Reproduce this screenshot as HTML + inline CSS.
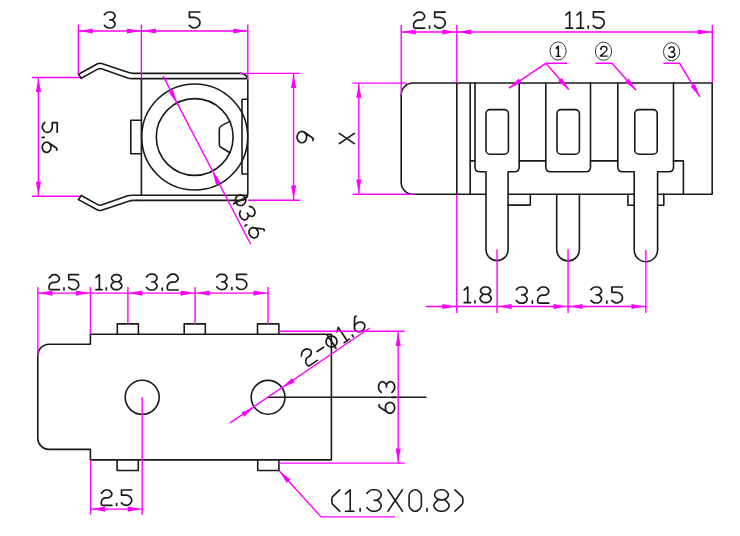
<!DOCTYPE html>
<html><head><meta charset="utf-8"><title>Audio jack drawing</title>
<style>html,body{margin:0;padding:0;background:#fff;}body{width:740px;height:536px;overflow:hidden;font-family:"Liberation Sans",sans-serif;}svg{display:block;}</style>
</head><body>
<svg width="740" height="536" viewBox="0 0 740 536">
<rect width="740" height="536" fill="#fff"/>
<g fill="none" stroke="#1a1a1a" stroke-width="1.6" stroke-linecap="round" stroke-linejoin="round">
<path d="M78.50,74.20 L97.11,64.00 Q99.30,62.80 101.67,63.59 L128.63,72.61 Q131.00,73.40 133.50,73.40 L137.00,73.40 L241,73.4 A6.8,6.8 0 0 1 247.8,80.2 L247.8,193.6 A6.8,6.8 0 0 1 241,200.40 L137,200.40"/>
<path d="M137.00,200.40 L133.50,200.40 Q131.00,200.40 128.63,201.19 L101.67,210.21 Q99.30,211.00 97.11,209.80 L78.50,199.60"/>
<path d="M81.20,78.30 L97.75,69.17 Q99.50,68.20 101.39,68.85 L127.71,77.95 Q129.60,78.60 131.60,78.60 L137.00,78.60 L246.4,78.6"/>
<path d="M81.20,195.50 L97.75,204.63 Q99.50,205.60 101.39,204.95 L127.71,195.85 Q129.60,195.20 131.60,195.20 L137.00,195.20 L246.4,195.20"/>
<path d="M81.2,78.3 L78.5,74.2"/>
<path d="M81.2,195.50 L78.5,199.60"/>
<path d="M141.4,78.6 L141.4,195.2"/>
<path d="M141.4,120.2 L130.8,120.2 L130.8,153.8 L141.4,153.8"/>
<path d="M247.8,99.3 L242,99.3 L242,174 L247.8,174"/>
<circle cx="194.7" cy="137" r="53"/>
<circle cx="194.7" cy="137" r="38.4"/>
<path d="M229.9,121.4 L221.6,125.6 Q219.3,126.8 219.3,129.4 L219.3,144.2 Q219.3,146.6 221.6,147.8 L229.9,152.8"/>
<path d="M413,83 L712.2,83 L712.2,194.3 L657.6,194.3 M634.2,194.3 L579.4,194.3 L508.1,194.3 M486,194.3 L413,194.3 A11.8,11.8 0 0 1 401.2,182.5 L401.2,94.8 A11.8,11.8 0 0 1 413,83"/>
<line x1="456.8" y1="83" x2="456.8" y2="194.3"/>
<line x1="470.2" y1="83" x2="470.2" y2="194.3"/>
<path d="M475,83 L475,167 Q475,171.8 479.8,171.8 L486,171.8 L486,249.6 A11.05,11.05 0 0 0 508.1,249.6 L508.1,171.8 L514.4,171.8 Q519.2,171.8 519.2,167 L519.2,83"/>
<path d="M545.8,83 L545.8,167 Q545.8,171.8 550.6,171.8 L585.7,171.8 Q590.5,171.8 590.5,167 L590.5,83"/>
<path d="M617.8,83 L617.8,167 Q617.8,171.8 622.6,171.8 L634.2,171.8 L634.2,250 A11.7,11.7 0 0 0 657.6,250 L657.6,171.8 L668.7,171.8 Q673.5,171.8 673.5,167 L673.5,83"/>
<line x1="470.2" y1="160.9" x2="475" y2="160.9"/>
<line x1="519.2" y1="160.9" x2="545.8" y2="160.9"/>
<line x1="590.5" y1="160.9" x2="617.8" y2="160.9"/>
<path d="M673.5,160.9 L683.4,160.9 L683.4,194.3"/>
<path d="M556.7,194.3 L556.7,249.6 A11.35,11.35 0 0 0 579.4,249.6 L579.4,194.3"/>
<rect x="486.0" y="109.6" width="22.4" height="44.6" rx="4" ry="4"/>
<rect x="557.0" y="109.6" width="22.4" height="44.6" rx="4" ry="4"/>
<rect x="634.8" y="109.6" width="22.4" height="44.6" rx="4" ry="4"/>
<path d="M508.1,205.1 L530.3,205.1 L530.3,194.3"/>
<path d="M634.2,205.2 L627.9,205.2 L627.9,194.3 M657.6,205.2 L663.8,205.2 L663.8,194.3"/>
<path d="M90.4,334.2 L331.4,334.2 L331.4,459.9 L90.4,459.9 L90.4,449.4 L49,449.4 A11.2,11.2 0 0 1 37.8,438.2 L37.8,355.4 A11.2,11.2 0 0 1 49,344.2 L90.4,344.2 Z"/>
<path d="M117.3,334.2 L117.3,323.9 L138.4,323.9 L138.4,334.2"/>
<path d="M184.2,334.2 L184.2,323.9 L205.3,323.9 L205.3,334.2"/>
<path d="M257.5,334.2 L257.5,323.9 L278.9,323.9 L278.9,334.2"/>
<path d="M117.1,459.9 L117.1,470.5 L138.3,470.5 L138.3,459.9"/>
<path d="M257.7,459.9 L257.7,470.5 L278.9,470.5 L278.9,459.9"/>
<circle cx="142.2" cy="397.3" r="17"/>
<circle cx="268.1" cy="397.3" r="16.9"/>
<line x1="268.1" y1="397.2" x2="425.9" y2="397.2"/>
</g>
<g transform="translate(104.40,12.00)" fill="none" stroke="#1a1a1a" stroke-width="1.700" stroke-linecap="round" stroke-linejoin="round"><path transform="translate(0.00,0)" d="M0.00,2.70 L1.35,1.30 Q2.60,0.00 4.40,0.00 L6.20,0.00 Q8.00,0.00 9.32,1.22 L9.38,1.28 Q10.70,2.50 10.70,3.84 L10.70,3.86 Q10.70,5.20 9.43,6.47 L9.27,6.63 Q8.00,7.90 6.71,7.90 L5.40,7.90 M8.00,7.90 L9.45,9.40 Q10.70,10.70 10.70,11.99 L10.70,12.01 Q10.70,13.30 9.43,14.57 L9.27,14.73 Q8.00,16.00 6.20,16.00 L4.40,16.00 Q2.60,16.00 1.35,14.70 L0.00,13.30"/></g>
<g transform="translate(189.40,12.00)" fill="none" stroke="#1a1a1a" stroke-width="1.700" stroke-linecap="round" stroke-linejoin="round"><path transform="translate(0.00,0)" d="M10.4,0 L0,0 L0,5.3 M0.00,5.30 L4.80,5.30 Q7.00,5.30 8.62,6.79 L8.98,7.11 Q10.60,8.60 10.60,10.59 L10.60,10.61 Q10.60,12.60 9.04,14.16 L8.76,14.44 Q7.20,16.00 5.01,16.00 L4.99,16.00 Q2.80,16.00 1.36,14.71 L-0.10,13.40"/></g>
<g transform="translate(57.20,122.60) rotate(90.00) scale(0.9300)" fill="none" stroke="#1a1a1a" stroke-width="1.828" stroke-linecap="round" stroke-linejoin="round"><path transform="translate(0.00,0)" d="M10.4,0 L0,0 L0,5.3 M0.00,5.30 L4.80,5.30 Q7.00,5.30 8.62,6.79 L8.98,7.11 Q10.60,8.60 10.60,10.59 L10.60,10.61 Q10.60,12.60 9.04,14.16 L8.76,14.44 Q7.20,16.00 5.01,16.00 L4.99,16.00 Q2.80,16.00 1.36,14.71 L-0.10,13.40"/><path transform="translate(15.70,0)" d="M0.2,14 L0.2,16.1"/><path transform="translate(21.00,0)" d="M0.4,9.6 L6.6,0.6 Q7.4,-0.3 8.6,0.7 M5.00,6.80 L6.00,6.80 Q8.00,6.80 9.41,8.21 L9.59,8.39 Q11.00,9.80 11.00,11.39 L11.00,11.41 Q11.00,13.00 9.59,14.41 L9.41,14.59 Q8.00,16.00 6.00,16.00 L5.00,16.00 Q3.00,16.00 1.59,14.59 L1.41,14.41 Q0.00,13.00 0.00,11.41 L0.00,11.39 Q0.00,9.80 1.41,8.39 L1.59,8.21 Q3.00,6.80 5.00,6.80 Z"/></g>
<g transform="translate(313.60,131.40) rotate(90.00) scale(1.0312)" fill="none" stroke="#1a1a1a" stroke-width="1.648" stroke-linecap="round" stroke-linejoin="round"><path transform="translate(0.00,0)" d="M0.4,9.6 L6.6,0.6 Q7.4,-0.3 8.6,0.7 M5.00,6.80 L6.00,6.80 Q8.00,6.80 9.41,8.21 L9.59,8.39 Q11.00,9.80 11.00,11.39 L11.00,11.41 Q11.00,13.00 9.59,14.41 L9.41,14.59 Q8.00,16.00 6.00,16.00 L5.00,16.00 Q3.00,16.00 1.59,14.59 L1.41,14.41 Q0.00,13.00 0.00,11.41 L0.00,11.39 Q0.00,9.80 1.41,8.39 L1.59,8.21 Q3.00,6.80 5.00,6.80 Z"/></g>
<g transform="translate(354.30,133.40) rotate(90.00) scale(0.9375)" fill="none" stroke="#1a1a1a" stroke-width="1.813" stroke-linecap="round" stroke-linejoin="round"><path transform="translate(0.00,0)" d="M0,0 L10.9,16 M10.9,0 L0,16"/></g>
<g transform="translate(245.00,192.00) rotate(62.80) scale(0.9600)" fill="none" stroke="#1a1a1a" stroke-width="1.771" stroke-linecap="round" stroke-linejoin="round"><path transform="translate(0.00,0)" d="M5.5,2.6 A5.5,5.5 0 1 0 5.5,13.6 A5.5,5.5 0 1 0 5.5,2.6 Z M5.5,0 L5.5,16.2"/><path transform="translate(15.40,0)" d="M0.00,2.70 L1.35,1.30 Q2.60,0.00 4.40,0.00 L6.20,0.00 Q8.00,0.00 9.32,1.22 L9.38,1.28 Q10.70,2.50 10.70,3.84 L10.70,3.86 Q10.70,5.20 9.43,6.47 L9.27,6.63 Q8.00,7.90 6.71,7.90 L5.40,7.90 M8.00,7.90 L9.45,9.40 Q10.70,10.70 10.70,11.99 L10.70,12.01 Q10.70,13.30 9.43,14.57 L9.27,14.73 Q8.00,16.00 6.20,16.00 L4.40,16.00 Q2.60,16.00 1.35,14.70 L0.00,13.30"/><path transform="translate(31.10,0)" d="M0.2,14 L0.2,16.1"/><path transform="translate(36.40,0)" d="M0.4,9.6 L6.6,0.6 Q7.4,-0.3 8.6,0.7 M5.00,6.80 L6.00,6.80 Q8.00,6.80 9.41,8.21 L9.59,8.39 Q11.00,9.80 11.00,11.39 L11.00,11.41 Q11.00,13.00 9.59,14.41 L9.41,14.59 Q8.00,16.00 6.00,16.00 L5.00,16.00 Q3.00,16.00 1.59,14.59 L1.41,14.41 Q0.00,13.00 0.00,11.41 L0.00,11.39 Q0.00,9.80 1.41,8.39 L1.59,8.21 Q3.00,6.80 5.00,6.80 Z"/></g>
<g transform="translate(413.60,12.10)" fill="none" stroke="#1a1a1a" stroke-width="1.700" stroke-linecap="round" stroke-linejoin="round"><path transform="translate(0.00,0)" d="M0.20,3.40 L2.30,1.17 Q3.40,0.00 5.00,0.00 L6.60,0.00 Q8.20,0.00 9.29,1.17 L10.01,1.93 Q11.10,3.10 11.10,4.24 L11.10,4.26 Q11.10,5.40 9.97,6.53 L9.53,6.97 Q8.40,8.10 6.80,8.10 L4.60,8.10 Q3.00,8.10 1.87,9.23 L1.23,9.87 Q0.10,11.00 0.10,12.60 L0.10,14.40 Q0.10,16.00 1.70,16.00 L11.10,16.00"/><path transform="translate(15.80,0)" d="M0.2,14 L0.2,16.1"/><path transform="translate(21.10,0)" d="M10.4,0 L0,0 L0,5.3 M0.00,5.30 L4.80,5.30 Q7.00,5.30 8.62,6.79 L8.98,7.11 Q10.60,8.60 10.60,10.59 L10.60,10.61 Q10.60,12.60 9.04,14.16 L8.76,14.44 Q7.20,16.00 5.01,16.00 L4.99,16.00 Q2.80,16.00 1.36,14.71 L-0.10,13.40"/></g>
<g transform="translate(566.00,11.90) scale(1.0188)" fill="none" stroke="#1a1a1a" stroke-width="1.669" stroke-linecap="round" stroke-linejoin="round"><path transform="translate(0.00,0)" d="M0,3 L3.6,0 L3.6,16 M0,16 L6.4,16"/><path transform="translate(10.80,0)" d="M0,3 L3.6,0 L3.6,16 M0,16 L6.4,16"/><path transform="translate(21.60,0)" d="M0.2,14 L0.2,16.1"/><path transform="translate(26.90,0)" d="M10.4,0 L0,0 L0,5.3 M0.00,5.30 L4.80,5.30 Q7.00,5.30 8.62,6.79 L8.98,7.11 Q10.60,8.60 10.60,10.59 L10.60,10.61 Q10.60,12.60 9.04,14.16 L8.76,14.44 Q7.20,16.00 5.01,16.00 L4.99,16.00 Q2.80,16.00 1.36,14.71 L-0.10,13.40"/></g>
<g transform="translate(464.20,287.00) scale(0.9812)" fill="none" stroke="#1a1a1a" stroke-width="1.732" stroke-linecap="round" stroke-linejoin="round"><path transform="translate(0.00,0)" d="M0,3 L3.6,0 L3.6,16 M0,16 L6.4,16"/><path transform="translate(10.80,0)" d="M0.2,14 L0.2,16.1"/><path transform="translate(16.10,0)" d="M5.00,0.00 L6.40,0.00 Q8.20,0.00 9.50,1.25 L9.60,1.35 Q10.90,2.60 10.90,3.74 L10.90,3.76 Q10.90,4.90 9.63,6.17 L9.57,6.23 Q8.30,7.50 6.50,7.50 L5.10,7.50 Q3.30,7.50 1.98,6.28 L1.82,6.12 Q0.50,4.90 0.50,3.76 L0.50,3.74 Q0.50,2.60 1.80,1.35 L1.90,1.25 Q3.20,0.00 5.00,0.00 Z M3.30,7.50 L1.31,9.37 Q0.00,10.60 0.00,11.79 L0.00,11.81 Q0.00,13.00 1.29,14.25 L1.81,14.75 Q3.10,16.00 4.90,16.00 L6.70,16.00 Q8.50,16.00 9.77,14.73 L10.23,14.27 Q11.50,13.00 11.50,11.81 L11.50,11.79 Q11.50,10.60 10.21,9.35 L8.30,7.50"/></g>
<g transform="translate(516.30,287.00) scale(1.0125)" fill="none" stroke="#1a1a1a" stroke-width="1.679" stroke-linecap="round" stroke-linejoin="round"><path transform="translate(0.00,0)" d="M0.00,2.70 L1.35,1.30 Q2.60,0.00 4.40,0.00 L6.20,0.00 Q8.00,0.00 9.32,1.22 L9.38,1.28 Q10.70,2.50 10.70,3.84 L10.70,3.86 Q10.70,5.20 9.43,6.47 L9.27,6.63 Q8.00,7.90 6.71,7.90 L5.40,7.90 M8.00,7.90 L9.45,9.40 Q10.70,10.70 10.70,11.99 L10.70,12.01 Q10.70,13.30 9.43,14.57 L9.27,14.73 Q8.00,16.00 6.20,16.00 L4.40,16.00 Q2.60,16.00 1.35,14.70 L0.00,13.30"/><path transform="translate(15.70,0)" d="M0.2,14 L0.2,16.1"/><path transform="translate(21.00,0)" d="M0.20,3.40 L2.30,1.17 Q3.40,0.00 5.00,0.00 L6.60,0.00 Q8.20,0.00 9.29,1.17 L10.01,1.93 Q11.10,3.10 11.10,4.24 L11.10,4.26 Q11.10,5.40 9.97,6.53 L9.53,6.97 Q8.40,8.10 6.80,8.10 L4.60,8.10 Q3.00,8.10 1.87,9.23 L1.23,9.87 Q0.10,11.00 0.10,12.60 L0.10,14.40 Q0.10,16.00 1.70,16.00 L11.10,16.00"/></g>
<g transform="translate(590.90,287.00)" fill="none" stroke="#1a1a1a" stroke-width="1.700" stroke-linecap="round" stroke-linejoin="round"><path transform="translate(0.00,0)" d="M0.00,2.70 L1.35,1.30 Q2.60,0.00 4.40,0.00 L6.20,0.00 Q8.00,0.00 9.32,1.22 L9.38,1.28 Q10.70,2.50 10.70,3.84 L10.70,3.86 Q10.70,5.20 9.43,6.47 L9.27,6.63 Q8.00,7.90 6.71,7.90 L5.40,7.90 M8.00,7.90 L9.45,9.40 Q10.70,10.70 10.70,11.99 L10.70,12.01 Q10.70,13.30 9.43,14.57 L9.27,14.73 Q8.00,16.00 6.20,16.00 L4.40,16.00 Q2.60,16.00 1.35,14.70 L0.00,13.30"/><path transform="translate(15.70,0)" d="M0.2,14 L0.2,16.1"/><path transform="translate(21.00,0)" d="M10.4,0 L0,0 L0,5.3 M0.00,5.30 L4.80,5.30 Q7.00,5.30 8.62,6.79 L8.98,7.11 Q10.60,8.60 10.60,10.59 L10.60,10.61 Q10.60,12.60 9.04,14.16 L8.76,14.44 Q7.20,16.00 5.01,16.00 L4.99,16.00 Q2.80,16.00 1.36,14.71 L-0.10,13.40"/></g>
<g transform="translate(49.00,274.70) scale(0.9375)" fill="none" stroke="#1a1a1a" stroke-width="1.813" stroke-linecap="round" stroke-linejoin="round"><path transform="translate(0.00,0)" d="M0.20,3.40 L2.30,1.17 Q3.40,0.00 5.00,0.00 L6.60,0.00 Q8.20,0.00 9.29,1.17 L10.01,1.93 Q11.10,3.10 11.10,4.24 L11.10,4.26 Q11.10,5.40 9.97,6.53 L9.53,6.97 Q8.40,8.10 6.80,8.10 L4.60,8.10 Q3.00,8.10 1.87,9.23 L1.23,9.87 Q0.10,11.00 0.10,12.60 L0.10,14.40 Q0.10,16.00 1.70,16.00 L11.10,16.00"/><path transform="translate(15.80,0)" d="M0.2,14 L0.2,16.1"/><path transform="translate(21.10,0)" d="M10.4,0 L0,0 L0,5.3 M0.00,5.30 L4.80,5.30 Q7.00,5.30 8.62,6.79 L8.98,7.11 Q10.60,8.60 10.60,10.59 L10.60,10.61 Q10.60,12.60 9.04,14.16 L8.76,14.44 Q7.20,16.00 5.01,16.00 L4.99,16.00 Q2.80,16.00 1.36,14.71 L-0.10,13.40"/></g>
<g transform="translate(96.00,274.70) scale(0.9375)" fill="none" stroke="#1a1a1a" stroke-width="1.813" stroke-linecap="round" stroke-linejoin="round"><path transform="translate(0.00,0)" d="M0,3 L3.6,0 L3.6,16 M0,16 L6.4,16"/><path transform="translate(10.80,0)" d="M0.2,14 L0.2,16.1"/><path transform="translate(16.10,0)" d="M5.00,0.00 L6.40,0.00 Q8.20,0.00 9.50,1.25 L9.60,1.35 Q10.90,2.60 10.90,3.74 L10.90,3.76 Q10.90,4.90 9.63,6.17 L9.57,6.23 Q8.30,7.50 6.50,7.50 L5.10,7.50 Q3.30,7.50 1.98,6.28 L1.82,6.12 Q0.50,4.90 0.50,3.76 L0.50,3.74 Q0.50,2.60 1.80,1.35 L1.90,1.25 Q3.20,0.00 5.00,0.00 Z M3.30,7.50 L1.31,9.37 Q0.00,10.60 0.00,11.79 L0.00,11.81 Q0.00,13.00 1.29,14.25 L1.81,14.75 Q3.10,16.00 4.90,16.00 L6.70,16.00 Q8.50,16.00 9.77,14.73 L10.23,14.27 Q11.50,13.00 11.50,11.81 L11.50,11.79 Q11.50,10.60 10.21,9.35 L8.30,7.50"/></g>
<g transform="translate(146.50,274.20) scale(0.9875)" fill="none" stroke="#1a1a1a" stroke-width="1.722" stroke-linecap="round" stroke-linejoin="round"><path transform="translate(0.00,0)" d="M0.00,2.70 L1.35,1.30 Q2.60,0.00 4.40,0.00 L6.20,0.00 Q8.00,0.00 9.32,1.22 L9.38,1.28 Q10.70,2.50 10.70,3.84 L10.70,3.86 Q10.70,5.20 9.43,6.47 L9.27,6.63 Q8.00,7.90 6.71,7.90 L5.40,7.90 M8.00,7.90 L9.45,9.40 Q10.70,10.70 10.70,11.99 L10.70,12.01 Q10.70,13.30 9.43,14.57 L9.27,14.73 Q8.00,16.00 6.20,16.00 L4.40,16.00 Q2.60,16.00 1.35,14.70 L0.00,13.30"/><path transform="translate(15.70,0)" d="M0.2,14 L0.2,16.1"/><path transform="translate(21.00,0)" d="M0.20,3.40 L2.30,1.17 Q3.40,0.00 5.00,0.00 L6.60,0.00 Q8.20,0.00 9.29,1.17 L10.01,1.93 Q11.10,3.10 11.10,4.24 L11.10,4.26 Q11.10,5.40 9.97,6.53 L9.53,6.97 Q8.40,8.10 6.80,8.10 L4.60,8.10 Q3.00,8.10 1.87,9.23 L1.23,9.87 Q0.10,11.00 0.10,12.60 L0.10,14.40 Q0.10,16.00 1.70,16.00 L11.10,16.00"/></g>
<g transform="translate(216.80,274.30) scale(0.9500)" fill="none" stroke="#1a1a1a" stroke-width="1.789" stroke-linecap="round" stroke-linejoin="round"><path transform="translate(0.00,0)" d="M0.00,2.70 L1.35,1.30 Q2.60,0.00 4.40,0.00 L6.20,0.00 Q8.00,0.00 9.32,1.22 L9.38,1.28 Q10.70,2.50 10.70,3.84 L10.70,3.86 Q10.70,5.20 9.43,6.47 L9.27,6.63 Q8.00,7.90 6.71,7.90 L5.40,7.90 M8.00,7.90 L9.45,9.40 Q10.70,10.70 10.70,11.99 L10.70,12.01 Q10.70,13.30 9.43,14.57 L9.27,14.73 Q8.00,16.00 6.20,16.00 L4.40,16.00 Q2.60,16.00 1.35,14.70 L0.00,13.30"/><path transform="translate(15.70,0)" d="M0.2,14 L0.2,16.1"/><path transform="translate(21.00,0)" d="M10.4,0 L0,0 L0,5.3 M0.00,5.30 L4.80,5.30 Q7.00,5.30 8.62,6.79 L8.98,7.11 Q10.60,8.60 10.60,10.59 L10.60,10.61 Q10.60,12.60 9.04,14.16 L8.76,14.44 Q7.20,16.00 5.01,16.00 L4.99,16.00 Q2.80,16.00 1.36,14.71 L-0.10,13.40"/></g>
<g transform="translate(378.60,413.30) rotate(-90.00)" fill="none" stroke="#1a1a1a" stroke-width="1.700" stroke-linecap="round" stroke-linejoin="round"><path transform="translate(0.00,0)" d="M0.4,9.6 L6.6,0.6 Q7.4,-0.3 8.6,0.7 M5.00,6.80 L6.00,6.80 Q8.00,6.80 9.41,8.21 L9.59,8.39 Q11.00,9.80 11.00,11.39 L11.00,11.41 Q11.00,13.00 9.59,14.41 L9.41,14.59 Q8.00,16.00 6.00,16.00 L5.00,16.00 Q3.00,16.00 1.59,14.59 L1.41,14.41 Q0.00,13.00 0.00,11.41 L0.00,11.39 Q0.00,9.80 1.41,8.39 L1.59,8.21 Q3.00,6.80 5.00,6.80 Z"/><path transform="translate(15.70,0)" d="M0.2,14 L0.2,16.1"/><path transform="translate(21.00,0)" d="M0.00,2.70 L1.35,1.30 Q2.60,0.00 4.40,0.00 L6.20,0.00 Q8.00,0.00 9.32,1.22 L9.38,1.28 Q10.70,2.50 10.70,3.84 L10.70,3.86 Q10.70,5.20 9.43,6.47 L9.27,6.63 Q8.00,7.90 6.71,7.90 L5.40,7.90 M8.00,7.90 L9.45,9.40 Q10.70,10.70 10.70,11.99 L10.70,12.01 Q10.70,13.30 9.43,14.57 L9.27,14.73 Q8.00,16.00 6.20,16.00 L4.40,16.00 Q2.60,16.00 1.35,14.70 L0.00,13.30"/></g>
<g transform="translate(299.30,353.20) rotate(-33.50)" fill="none" stroke="#1a1a1a" stroke-width="1.700" stroke-linecap="round" stroke-linejoin="round"><path transform="translate(0.00,0)" d="M0.20,3.40 L2.30,1.17 Q3.40,0.00 5.00,0.00 L6.60,0.00 Q8.20,0.00 9.29,1.17 L10.01,1.93 Q11.10,3.10 11.10,4.24 L11.10,4.26 Q11.10,5.40 9.97,6.53 L9.53,6.97 Q8.40,8.10 6.80,8.10 L4.60,8.10 Q3.00,8.10 1.87,9.23 L1.23,9.87 Q0.10,11.00 0.10,12.60 L0.10,14.40 Q0.10,16.00 1.70,16.00 L11.10,16.00"/><path transform="translate(15.80,0)" d="M0,8.4 L7.8,8.4"/><path transform="translate(27.80,0)" d="M5.5,2.6 A5.5,5.5 0 1 0 5.5,13.6 A5.5,5.5 0 1 0 5.5,2.6 Z M5.5,0 L5.5,16.2"/><path transform="translate(43.20,0)" d="M0,3 L3.6,0 L3.6,16 M0,16 L6.4,16"/><path transform="translate(54.00,0)" d="M0.2,14 L0.2,16.1"/><path transform="translate(59.30,0)" d="M0.4,9.6 L6.6,0.6 Q7.4,-0.3 8.6,0.7 M5.00,6.80 L6.00,6.80 Q8.00,6.80 9.41,8.21 L9.59,8.39 Q11.00,9.80 11.00,11.39 L11.00,11.41 Q11.00,13.00 9.59,14.41 L9.41,14.59 Q8.00,16.00 6.00,16.00 L5.00,16.00 Q3.00,16.00 1.59,14.59 L1.41,14.41 Q0.00,13.00 0.00,11.41 L0.00,11.39 Q0.00,9.80 1.41,8.39 L1.59,8.21 Q3.00,6.80 5.00,6.80 Z"/></g>
<g transform="translate(101.20,490.00) scale(0.9625)" fill="none" stroke="#1a1a1a" stroke-width="1.766" stroke-linecap="round" stroke-linejoin="round"><path transform="translate(0.00,0)" d="M0.20,3.40 L2.30,1.17 Q3.40,0.00 5.00,0.00 L6.60,0.00 Q8.20,0.00 9.29,1.17 L10.01,1.93 Q11.10,3.10 11.10,4.24 L11.10,4.26 Q11.10,5.40 9.97,6.53 L9.53,6.97 Q8.40,8.10 6.80,8.10 L4.60,8.10 Q3.00,8.10 1.87,9.23 L1.23,9.87 Q0.10,11.00 0.10,12.60 L0.10,14.40 Q0.10,16.00 1.70,16.00 L11.10,16.00"/><path transform="translate(15.80,0)" d="M0.2,14 L0.2,16.1"/><path transform="translate(21.10,0)" d="M10.4,0 L0,0 L0,5.3 M0.00,5.30 L4.80,5.30 Q7.00,5.30 8.62,6.79 L8.98,7.11 Q10.60,8.60 10.60,10.59 L10.60,10.61 Q10.60,12.60 9.04,14.16 L8.76,14.44 Q7.20,16.00 5.01,16.00 L4.99,16.00 Q2.80,16.00 1.36,14.71 L-0.10,13.40"/></g>
<g transform="translate(331.90,489.80) scale(1.3375)" fill="none" stroke="#1a1a1a" stroke-width="1.196" stroke-linecap="round" stroke-linejoin="round"><path transform="translate(0.00,0)" d="M5.90,0.00 L0.73,4.91 Q0.00,5.60 0.00,6.60 L0.00,9.40 Q0.00,10.40 0.73,11.09 L5.90,16.00"/><path transform="translate(10.10,0)" d="M0,3 L3.6,0 L3.6,16 M0,16 L6.4,16"/><path transform="translate(20.90,0)" d="M0.2,14 L0.2,16.1"/><path transform="translate(26.20,0)" d="M0.00,2.70 L1.35,1.30 Q2.60,0.00 4.40,0.00 L6.20,0.00 Q8.00,0.00 9.32,1.22 L9.38,1.28 Q10.70,2.50 10.70,3.84 L10.70,3.86 Q10.70,5.20 9.43,6.47 L9.27,6.63 Q8.00,7.90 6.71,7.90 L5.40,7.90 M8.00,7.90 L9.45,9.40 Q10.70,10.70 10.70,11.99 L10.70,12.01 Q10.70,13.30 9.43,14.57 L9.27,14.73 Q8.00,16.00 6.20,16.00 L4.40,16.00 Q2.60,16.00 1.35,14.70 L0.00,13.30"/><path transform="translate(41.90,0)" d="M0,0 L10.9,16 M10.9,0 L0,16"/><path transform="translate(57.70,0)" d="M4.40,0.00 L4.80,0.00 Q6.20,0.00 7.19,0.99 L8.21,2.01 Q9.20,3.00 9.20,4.40 L9.20,11.60 Q9.20,13.00 8.21,13.99 L7.19,15.01 Q6.20,16.00 4.80,16.00 L4.40,16.00 Q3.00,16.00 2.01,15.01 L0.99,13.99 Q0.00,13.00 0.00,11.60 L0.00,4.40 Q0.00,3.00 0.99,2.01 L2.01,0.99 Q3.00,0.00 4.40,0.00 Z"/><path transform="translate(70.90,0)" d="M0.2,14 L0.2,16.1"/><path transform="translate(76.20,0)" d="M5.00,0.00 L6.40,0.00 Q8.20,0.00 9.50,1.25 L9.60,1.35 Q10.90,2.60 10.90,3.74 L10.90,3.76 Q10.90,4.90 9.63,6.17 L9.57,6.23 Q8.30,7.50 6.50,7.50 L5.10,7.50 Q3.30,7.50 1.98,6.28 L1.82,6.12 Q0.50,4.90 0.50,3.76 L0.50,3.74 Q0.50,2.60 1.80,1.35 L1.90,1.25 Q3.20,0.00 5.00,0.00 Z M3.30,7.50 L1.31,9.37 Q0.00,10.60 0.00,11.79 L0.00,11.81 Q0.00,13.00 1.29,14.25 L1.81,14.75 Q3.10,16.00 4.90,16.00 L6.70,16.00 Q8.50,16.00 9.77,14.73 L10.23,14.27 Q11.50,13.00 11.50,11.81 L11.50,11.79 Q11.50,10.60 10.21,9.35 L8.30,7.50"/><path transform="translate(92.00,0)" d="M0.00,0.00 L5.17,4.91 Q5.90,5.60 5.90,6.60 L5.90,9.40 Q5.90,10.40 5.17,11.09 L0.00,16.00"/></g>
<ellipse cx="558.1" cy="51.0" rx="8.1" ry="9.1" fill="none" stroke="#3a3a3a" stroke-width="1.0"/>
<ellipse cx="603.5" cy="51.2" rx="8.1" ry="9.1" fill="none" stroke="#3a3a3a" stroke-width="1.0"/>
<ellipse cx="671.6" cy="51.7" rx="8.1" ry="9.1" fill="none" stroke="#3a3a3a" stroke-width="1.0"/>
<g fill="none" stroke="#111" stroke-linecap="butt" stroke-linejoin="round"><path d="M555.9,48.6 L558.3,46.2 L558.3,56.2" stroke-width="1.6"/><path d="M555.8,56.4 L560.6,56.4" stroke-width="1.2"/><path d="M600.6,49.4 Q600.9,46.3 603.8,46.3 Q607.0,46.4 607.0,49.1 Q607.0,51.2 603.8,53.2 L600.2,56.1 L607.6,56.1" stroke-width="1.35"/><path d="M668.8,49.2 Q669.3,46.9 671.6,46.9 Q674.3,46.9 674.3,49.3 Q674.3,51.8 671.0,51.9 Q674.9,52.0 674.9,54.5 Q674.9,57.2 671.5,57.2 Q668.9,57.2 668.2,55.4" stroke-width="1.35"/><circle cx="601.0" cy="48.9" r="0.9" fill="#111" stroke="none"/></g>
<g fill="none" stroke="#ff00ff" stroke-width="1.4" stroke-linecap="butt">
<line x1="78.3" y1="24.5" x2="78.3" y2="74.2"/>
<line x1="141.4" y1="24.5" x2="141.4" y2="78.6"/>
<line x1="247.8" y1="24.5" x2="247.8" y2="80"/>
<line x1="78.3" y1="31" x2="247.8" y2="31"/>
<line x1="32" y1="77.5" x2="80" y2="77.5"/>
<line x1="32" y1="196.2" x2="80" y2="196.2"/>
<line x1="38.4" y1="77.5" x2="38.4" y2="196.2"/>
<line x1="240" y1="73.4" x2="300.2" y2="73.4"/>
<line x1="247.8" y1="200.3" x2="300.2" y2="200.3"/>
<line x1="293.6" y1="73.4" x2="293.6" y2="200.3"/>
<line x1="352.6" y1="83.1" x2="407" y2="83.1"/>
<line x1="352.6" y1="194.2" x2="413" y2="194.2"/>
<line x1="358.8" y1="83.1" x2="358.8" y2="194.2"/>
<line x1="163.1" y1="76.1" x2="250.7" y2="244.2"/>
<line x1="401.2" y1="25" x2="401.2" y2="95"/>
<line x1="456.8" y1="25" x2="456.8" y2="83"/>
<line x1="712.3" y1="25" x2="712.3" y2="83"/>
<line x1="401.2" y1="32" x2="712.3" y2="32"/>
<path d="M567.4,63.3 L545.9,63.3 L508.9,88.2 M545.9,63.3 L568.9,89.8"/>
<path d="M595.5,63.3 L612,63.3 L636,90.3"/>
<path d="M663.4,63.3 L679.6,63.3 L699.8,96.8"/>
<line x1="456.8" y1="194.3" x2="456.8" y2="313"/>
<line x1="497.05" y1="249.2" x2="497.05" y2="313"/>
<line x1="568.05" y1="249.2" x2="568.05" y2="313"/>
<line x1="645.9" y1="250" x2="645.9" y2="313"/>
<line x1="425.8" y1="306.5" x2="645.9" y2="306.5"/>
<line x1="37.9" y1="287" x2="37.9" y2="355.7"/>
<line x1="90.4" y1="287" x2="90.4" y2="334.2"/>
<line x1="127.9" y1="287" x2="127.9" y2="323.9"/>
<line x1="195.1" y1="287" x2="195.1" y2="323.9"/>
<line x1="268.0" y1="287" x2="268.0" y2="323.9"/>
<line x1="37.9" y1="293.1" x2="268.0" y2="293.1"/>
<line x1="278.9" y1="331.3" x2="404.6" y2="331.3"/>
<line x1="278.9" y1="463.1" x2="404.8" y2="463.1"/>
<line x1="398.2" y1="331.3" x2="398.2" y2="463.1"/>
<line x1="230.1" y1="422.9" x2="369.7" y2="328.0"/>
<line x1="90.6" y1="459.9" x2="90.6" y2="514.7"/>
<line x1="142.2" y1="397.3" x2="142.2" y2="514.7"/>
<line x1="90.6" y1="509.1" x2="142.2" y2="509.1"/>
<path d="M278.9,470.5 L321.1,516.9 L395,516.9"/>
</g>
<path d="M79.30,31.00 L92.80,28.40 L92.80,33.60 Z" fill="#ff00ff" stroke="none"/>
<path d="M140.40,31.00 L126.90,33.60 L126.90,28.40 Z" fill="#ff00ff" stroke="none"/>
<path d="M142.40,31.00 L155.90,28.40 L155.90,33.60 Z" fill="#ff00ff" stroke="none"/>
<path d="M246.80,31.00 L233.30,33.60 L233.30,28.40 Z" fill="#ff00ff" stroke="none"/>
<path d="M38.40,78.50 L41.00,92.00 L35.80,92.00 Z" fill="#ff00ff" stroke="none"/>
<path d="M38.40,195.20 L35.80,181.70 L41.00,181.70 Z" fill="#ff00ff" stroke="none"/>
<path d="M293.60,74.60 L296.20,88.10 L291.00,88.10 Z" fill="#ff00ff" stroke="none"/>
<path d="M293.60,199.10 L291.00,185.60 L296.20,185.60 Z" fill="#ff00ff" stroke="none"/>
<path d="M358.80,84.20 L361.40,97.70 L356.20,97.70 Z" fill="#ff00ff" stroke="none"/>
<path d="M358.80,193.10 L356.20,179.60 L361.40,179.60 Z" fill="#ff00ff" stroke="none"/>
<path d="M176.90,102.90 L168.42,92.08 L173.04,89.70 Z" fill="#ff00ff" stroke="none"/>
<path d="M212.50,171.10 L220.57,182.23 L215.86,184.43 Z" fill="#ff00ff" stroke="none"/>
<path d="M402.20,32.00 L415.70,29.40 L415.70,34.60 Z" fill="#ff00ff" stroke="none"/>
<path d="M455.80,32.00 L442.30,34.60 L442.30,29.40 Z" fill="#ff00ff" stroke="none"/>
<path d="M457.80,32.00 L471.30,29.40 L471.30,34.60 Z" fill="#ff00ff" stroke="none"/>
<path d="M711.30,32.00 L697.80,34.60 L697.80,29.40 Z" fill="#ff00ff" stroke="none"/>
<path d="M508.90,88.20 L518.65,78.51 L521.55,82.82 Z" fill="#ff00ff" stroke="none"/>
<path d="M568.90,89.80 L558.09,81.31 L562.01,77.90 Z" fill="#ff00ff" stroke="none"/>
<path d="M636.00,90.30 L625.09,81.94 L628.97,78.48 Z" fill="#ff00ff" stroke="none"/>
<path d="M699.80,96.80 L690.60,86.58 L695.06,83.90 Z" fill="#ff00ff" stroke="none"/>
<path d="M455.80,306.50 L442.30,309.10 L442.30,303.90 Z" fill="#ff00ff" stroke="none"/>
<path d="M498.05,306.50 L511.55,303.90 L511.55,309.10 Z" fill="#ff00ff" stroke="none"/>
<path d="M567.05,306.50 L553.55,309.10 L553.55,303.90 Z" fill="#ff00ff" stroke="none"/>
<path d="M569.05,306.50 L582.55,303.90 L582.55,309.10 Z" fill="#ff00ff" stroke="none"/>
<path d="M644.90,306.50 L631.40,309.10 L631.40,303.90 Z" fill="#ff00ff" stroke="none"/>
<path d="M38.90,293.10 L52.40,290.50 L52.40,295.70 Z" fill="#ff00ff" stroke="none"/>
<path d="M89.40,293.10 L75.90,295.70 L75.90,290.50 Z" fill="#ff00ff" stroke="none"/>
<path d="M128.90,293.10 L142.40,290.50 L142.40,295.70 Z" fill="#ff00ff" stroke="none"/>
<path d="M194.10,293.10 L180.60,295.70 L180.60,290.50 Z" fill="#ff00ff" stroke="none"/>
<path d="M196.10,293.10 L209.60,290.50 L209.60,295.70 Z" fill="#ff00ff" stroke="none"/>
<path d="M267.00,293.10 L253.50,295.70 L253.50,290.50 Z" fill="#ff00ff" stroke="none"/>
<path d="M398.20,332.40 L400.80,345.90 L395.60,345.90 Z" fill="#ff00ff" stroke="none"/>
<path d="M398.20,462.00 L395.60,448.50 L400.80,448.50 Z" fill="#ff00ff" stroke="none"/>
<path d="M282.20,387.70 L291.87,377.93 L294.81,382.22 Z" fill="#ff00ff" stroke="none"/>
<path d="M254.00,406.90 L244.36,416.70 L241.41,412.42 Z" fill="#ff00ff" stroke="none"/>
<path d="M91.60,509.10 L105.10,506.50 L105.10,511.70 Z" fill="#ff00ff" stroke="none"/>
<path d="M141.20,509.10 L127.70,511.70 L127.70,506.50 Z" fill="#ff00ff" stroke="none"/>
<path d="M279.60,471.30 L290.61,479.53 L286.76,483.03 Z" fill="#ff00ff" stroke="none"/>
</svg>
</body></html>
